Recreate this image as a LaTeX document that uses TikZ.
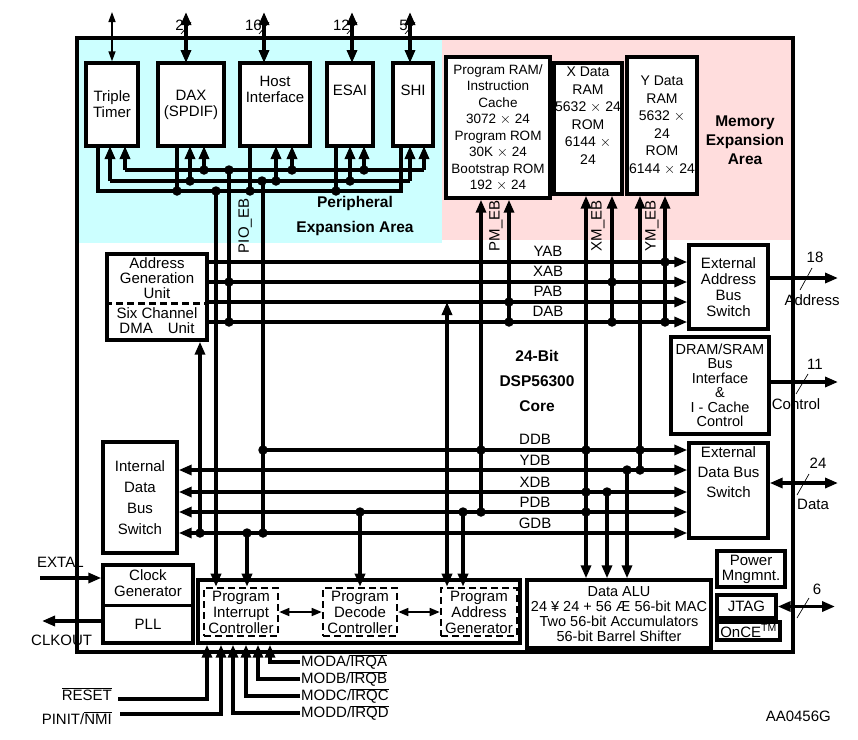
\documentclass[tikz,border=0pt]{standalone}
\usepackage{fontspec}
\setmainfont{Liberation Sans}
\usepackage{tikz}
\definecolor{periphcyan}{RGB}{204,255,255}
\definecolor{mempink}{RGB}{255,221,221}
\usetikzlibrary{arrows.meta,positioning}

\begin{document}
\begin{tikzpicture}[x=1pt, y=-1pt,
    every node/.style={font=\fontsize{15}{16}\selectfont},
    >={Triangle[length=13pt,width=10pt]},
    blk/.style={draw, line width=3.4pt, fill=white, inner sep=0pt, align=center},
    dblk/.style={draw, line width=2.6pt, dash pattern=on 7pt off 4pt, inner sep=0pt, align=center},
    bus/.style={line width=3.2pt},
    dot/.style={circle, fill, inner sep=0pt, minimum size=9.5pt},
    lbl/.style={inner sep=1pt},
    bold/.style={font=\fontsize{15.5}{25}\selectfont\bfseries, align=center}]
    \useasboundingbox (0,0) rectangle (858,739);

    % expansion areas
    \fill[periphcyan] (75,38) rectangle (442,243);
    \fill[mempink] (442,38) rectangle (793,240);
    \draw[line width=3.6pt] (77,38) rectangle (793,652);

    % peripherals
    \node[blk, minimum width=52, minimum height=83] (tt) at (112,104.5) {Triple\\Timer};
    \node[blk, minimum width=66, minimum height=83] (dax) at (191,104.5) {DAX\\(SPDIF)};
    \node[blk, minimum width=70, minimum height=83] (host) at (275,104.5) {Host\\Interface\\[14pt]};
    \node[blk, minimum width=46, minimum height=83] (esai) at (350,104.5) {ESAI\\[12pt]};
    \node[blk, minimum width=40, minimum height=83] (shi) at (413,104.5) {SHI\\[12pt]};
    \node[bold] (periph) at (355,216) {Peripheral\\Expansion Area};

    % memories
    \node[blk, minimum width=104, minimum height=141, font=\fontsize{13.5}{16.5}\selectfont] (pm) at (498,127.5)
        {Program RAM/\\Instruction\\Cache\\3072 $\times$ 24\\Program ROM\\30K $\times$ 24\\Bootstrap ROM\\192 $\times$ 24};
    \node[blk, minimum width=68, minimum height=131, font=\fontsize{14}{17.5}\selectfont] (xd) at (588,128.5)
        {X Data\\RAM\\5632 $\times$ 24\\ROM\\6144 $\times$\\24\\[8pt]};
    \node[blk, minimum width=70, minimum height=137, font=\fontsize{14}{17.5}\selectfont] (yd) at (662,125.5)
        {Y Data\\RAM\\5632 $\times$\\24\\ROM\\6144 $\times$ 24};
    \node[bold, font=\fontsize{15.5}{19}\selectfont\bfseries] (memx) at (745,140) {Memory\\Expansion\\Area};

    % core blocks
    \node[blk, minimum width=100, minimum height=86] (agu) at (157,297) {};
    \draw[line width=3pt, dash pattern=on 7pt off 4pt] (agu.west |- 0,303) -- (agu.east |- 0,303);
    \node[align=center, font=\fontsize{15}{15}\selectfont] (agut) at (157,278) {Address\\Generation\\Unit};
    \node[align=center, font=\fontsize{15}{15}\selectfont] (dmat) at (157,321) {Six Channel\\DMA\quad Unit};
    \node[blk, minimum width=74, minimum height=111, font=\fontsize{15}{21}\selectfont] (idbs) at (140,497.5) {Internal\\Data\\Bus\\Switch};
    \node[blk, minimum width=90, minimum height=78] (clk) at (148,604) {};
    \draw[line width=3pt] (clk.west |- 0,605) -- (clk.east |- 0,605);
    \node[align=center] (clkt) at (148,583) {Clock\\Generator};
    \node (pll) at (148,624) {PLL};
    \node[blk, minimum width=322, minimum height=63, fill=none] (pcu) at (359,611.5) {};
    \node[dblk, minimum width=74, minimum height=48] (pic) at (241,612) {Program\\Interrupt\\Controller};
    \node[dblk, minimum width=74, minimum height=48] (pdc) at (360,612) {Program\\Decode\\Controller};
    \node[dblk, minimum width=76, minimum height=48] (pag) at (479,612) {Program\\Address\\Generator};
    \node[blk, minimum width=184, minimum height=68, font=\fontsize{14.5}{15}\selectfont] (alu) at (619,614)
        {Data ALU\\24 ¥ 24 + 56 Æ 56-bit MAC\\Two 56-bit Accumulators\\56-bit Barrel Shifter};
    \node[bold] (core) at (537,381) {24-Bit\\DSP56300\\Core};

    % right side blocks
    \node[blk, minimum width=79, minimum height=84] (eab) at (728.5,287) {External\\Address\\Bus\\Switch};
    \node[blk, minimum width=98, minimum height=97, font=\fontsize{14.5}{14.5}\selectfont] (dram) at (720,385.5) {DRAM/SRAM\\Bus\\Interface\\\&\\I - Cache\\Control};
    \node[blk, minimum width=79, minimum height=95, font=\fontsize{15}{20}\selectfont] (edbs) at (728.5,490.5) {External\\Data Bus\\Switch\\[16pt]};
    \node[blk, minimum width=68, minimum height=36, font=\fontsize{15}{15}\selectfont] (pwr) at (751,569) {Power\\Mngmnt.};
    \node[blk, minimum width=59, minimum height=23] (jtag) at (746.5,606.5) {JTAG};
    \node[blk, minimum width=63, minimum height=18] (once) at (748.5,631) {OnCE\textsuperscript{TM}};

    % peripheral pins
    \draw[<->, line width=1.4pt, >={Triangle[length=10pt,width=7pt]}] (112,12) -- (tt.north -| 112,0);
    \foreach \x/\n in {186/2, 264/16, 352/12, 410/5} {
        \draw[bus, <->] (\x,12) -- (\x,63);
        \draw[line width=0.7pt] (\x-5,34) -- (\x+5,22);
        \node[anchor=east, inner sep=1pt] (pin\n) at (\x-1,25) {\n};
    }

    % peripheral bus
    \draw[bus] (tt.south -| 98,0) |- (401,191) -- (shi.south -| 401,0);
    \foreach \x in {177, 250, 336} \draw[bus] (\x,146) -- (\x,191);
    \draw[bus] (110,181) -- (410,181);
    \draw[bus] (125,170) -- (424,170);
    \foreach \x in {110, 190, 276, 350, 410} \draw[bus, ->] (\x,181) -- (\x,146);
    \foreach \x in {125, 204, 292, 364, 424} \draw[bus, ->] (\x,170) -- (\x,146);

    % address buses
    \foreach \y/\b in {262/YAB, 282/XAB, 302/PAB, 322/DAB} {
        \draw[bus, ->] (agu.east |- 0,\y) -- (eab.west |- 0,\y);
        \node[lbl] (l\b) at (548,\y-11) {\b};
    }
    % data buses
    \draw[bus, ->] (263,450) -- (edbs.west |- 0,450);
    \node[lbl] (lDDB) at (535,439) {DDB};
    \foreach \y/\b in {470/YDB, 492/XDB, 512/PDB, 533/GDB} {
        \draw[bus, <->] (idbs.east |- 0,\y) -- (edbs.west |- 0,\y);
        \node[lbl] (l\b) at (535,\y-10) {\b};
    }

    % vertical links
    \draw[bus, ->] (216,191) -- (pic.north -| 216,0);
    \draw[bus] (229,170) -- (229,322);
    \draw[bus] (263,181) -- (263,533);
    \draw[bus, ->] (200,533) -- (agu.south -| 200,0);
    \draw[bus, ->] (247,533) -- (pic.north -| 247,0);
    \draw[bus, ->] (360,512) -- (pdc.north);
    \draw[bus, <->] (pag.north -| 447,0) -- (447,302);
    \draw[bus, ->] (463,512) -- (pag.north -| 463,0);
    \draw[bus, ->] (481,512) -- (pm.south -| 481,0);
    \draw[bus, ->] (509,322) -- (pm.south -| 509,0);
    \draw[bus, <->] (xd.south -| 586,0) -- (alu.north -| 586,0);
    \draw[bus, ->] (612,322) -- (xd.south -| 612,0);
    \draw[bus, ->] (607,492) -- (alu.north -| 607,0);
    \draw[bus, ->] (627,470) -- (alu.north -| 627,0);
    \draw[bus, ->] (640,470) -- (yd.south -| 640,0);
    \draw[bus, ->] (665,322) -- (yd.south -| 665,0);

    \node[rotate=90, lbl] (pioeb) at (245,226) {PIO\_EB};
    \node[rotate=90, lbl] (pmeb) at (496,226) {PM\_EB};
    \node[rotate=90, lbl] (xmeb) at (598,226) {XM\_EB};
    \node[rotate=90, lbl] (ymeb) at (652,226) {YM\_EB};

    % junctions
    \foreach \x/\y [count=\i] in {177/191, 250/191, 336/191, 216/191, 190/181, 276/181, 350/181, 262/181,
        204/170, 292/170, 364/170, 229/170, 229/282, 229/322, 263/450, 263/533, 200/533, 247/533,
        360/512, 463/512, 481/450, 481/512, 509/302, 509/322, 586/450, 586/492, 586/512,
        612/282, 612/322, 607/492, 627/470, 640/450, 640/470, 665/262, 665/322}
        \node[dot] (j\i) at (\x,\y) {};

    % program control
    \draw[line width=1.6pt, <->, >={Triangle[length=10pt,width=8pt]}] (pic) -- (pdc);
    \draw[line width=1.6pt, <->, >={Triangle[length=10pt,width=8pt]}] (pdc) -- (pag);

    % mode and reset pins
    \foreach \y/\x/\t in {662/270/{MODA/$\overline{\mbox{IRQA}}$}, 679/258/{MODB/$\overline{\mbox{IRQB}}$},
        696/246/{MODC/$\overline{\mbox{IRQC}}$}, 713/233/{MODD/$\overline{\mbox{IRQD}}$}} {
        \node[anchor=west, inner sep=1pt] (m\x) at (300,\y) {\t};
        \draw[bus, ->] (m\x.west) -| (pcu.south -| \x,0);
    }
    \node[anchor=east, inner sep=1pt] (rst) at (113,694) {$\overline{\mbox{RESET}}$};
    \node[anchor=east, inner sep=1pt] (pinit) at (113,718) {PINIT/$\overline{\mbox{NMI}}$};
    \draw[bus, ->] (118,699) -| (pcu.south -| 207,0);
    \draw[bus, ->] (120,714) -| (pcu.south -| 221,0);

    % clock
    \node[anchor=south west, inner sep=1pt] (extal) at (36,569) {EXTAL};
    \node[anchor=north west, inner sep=1pt] (clkout) at (30,634) {CLKOUT};
    \draw[bus, ->] (40,578) -- (clk.west |- 0,578);
    \draw[bus, ->] (clk.west |- 0,621) -- (42,621);

    % external pins
    \draw[bus, ->] (eab.east |- 0,278) -- (838,278);
    \draw[line width=0.7pt] (800,290) -- (812,268);
    \node[lbl] (n18) at (815,257) {18};
    \node[lbl] (naddr) at (812,300) {Address};
    \draw[bus, ->] (dram.east |- 0,382) -- (838,382);
    \draw[line width=0.7pt] (796,394) -- (808,374);
    \node[lbl] (n11) at (815,364) {11};
    \node[lbl] (nctl) at (796,404) {Control};
    \draw[bus, <->] (edbs.east |- 0,483) -- (838,483);
    \draw[line width=0.7pt] (797,495) -- (809,474);
    \node[lbl] (n24) at (818,463) {24};
    \node[lbl] (ndata) at (813,504) {Data};
    \draw[bus, <->] (jtag.east) -- (835,606.5);
    \draw[line width=0.7pt] (797,618) -- (809,598);
    \node[lbl] (n6) at (817,589) {6};

    \node[anchor=east, inner sep=1pt] (fig) at (832,716) {AA0456G};
\end{tikzpicture}
\end{document}
